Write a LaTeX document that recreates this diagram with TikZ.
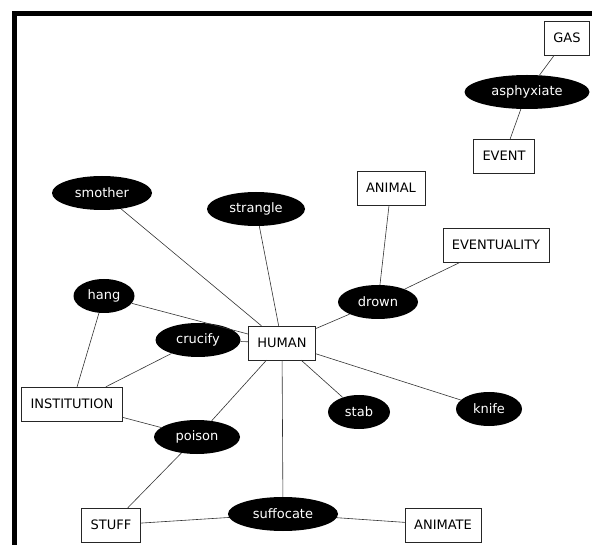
\documentclass[tikz,border=0pt]{standalone}
\usepackage{fontspec}
\setmainfont{DejaVu Sans}
\usepackage{tikz}
\usetikzlibrary{shapes.geometric}

\begin{document}
\begin{tikzpicture}[x=1pt, y=-1pt,
verbnode/.style={ellipse, fill=black, text=white, minimum height=34pt, inner sep=0pt, font=\fontsize{13}{15}\selectfont},
typenode/.style={rectangle, draw=black!85, fill=white, thin, minimum height=34pt, inner xsep=9pt, font=\fontsize{13}{15}\selectfont},
link/.style={draw=black!80, semithick}]
\useasboundingbox (0,0) rectangle (592,545);
\draw[line width=5pt] (14.5,545) -- (14.5,13.5) -- (592,13.5);

\node[typenode] (gas) at (567,38) {GAS};
\node[verbnode, minimum width=125pt] (asphyxiate) at (527,92) {asphyxiate};
\node[typenode] (event) at (504,156) {EVENT};
\node[typenode] (animal) at (391,188) {ANIMAL};
\node[typenode] (eventuality) at (496,245) {EVENTUALITY};
\node[verbnode, minimum width=100pt] (smother) at (102,193) {smother};
\node[verbnode, minimum width=98pt] (strangle) at (256,209) {strangle};
\node[verbnode, minimum width=80pt] (drown) at (378,302) {drown};
\node[verbnode, minimum width=61pt] (hang) at (104,296) {hang};
\node[verbnode, minimum width=85pt] (crucify) at (198,340) {crucify};
\node[typenode] (human) at (282,343) {HUMAN};
\node[typenode] (institution) at (72,404) {INSTITUTION};
\node[verbnode, minimum width=86pt] (poison) at (197,437) {poison};
\node[verbnode, minimum width=62pt] (stab) at (359,412) {stab};
\node[verbnode, minimum width=66pt] (knife) at (489,409) {knife};
\node[verbnode, minimum width=110pt] (suffocate) at (283,514) {suffocate};
\node[typenode] (stuff) at (111,525) {STUFF};
\node[typenode] (animate) at (443,525) {ANIMATE};

\draw[link] (gas) -- (asphyxiate);
\draw[link] (asphyxiate) -- (event);
\draw[link] (smother) -- (human);
\draw[link] (strangle) -- (human);
\draw[link] (animal) -- (drown);
\draw[link] (eventuality) -- (drown);
\draw[link] (drown) -- (human);
\draw[link] (hang) -- (human);
\draw[link] (hang) -- (institution);
\draw[link] (crucify) -- (human);
\draw[link] (crucify) -- (institution);
\draw[link] (institution) -- (poison);
\draw[link] (poison) -- (human);
\draw[link] (poison) -- (stuff);
\draw[link] (human) -- (stab);
\draw[link] (human) -- (knife);
\draw[link] (human) -- (suffocate);
\draw[link] (suffocate) -- (stuff);
\draw[link] (suffocate) -- (animate);
\end{tikzpicture}
\end{document}
